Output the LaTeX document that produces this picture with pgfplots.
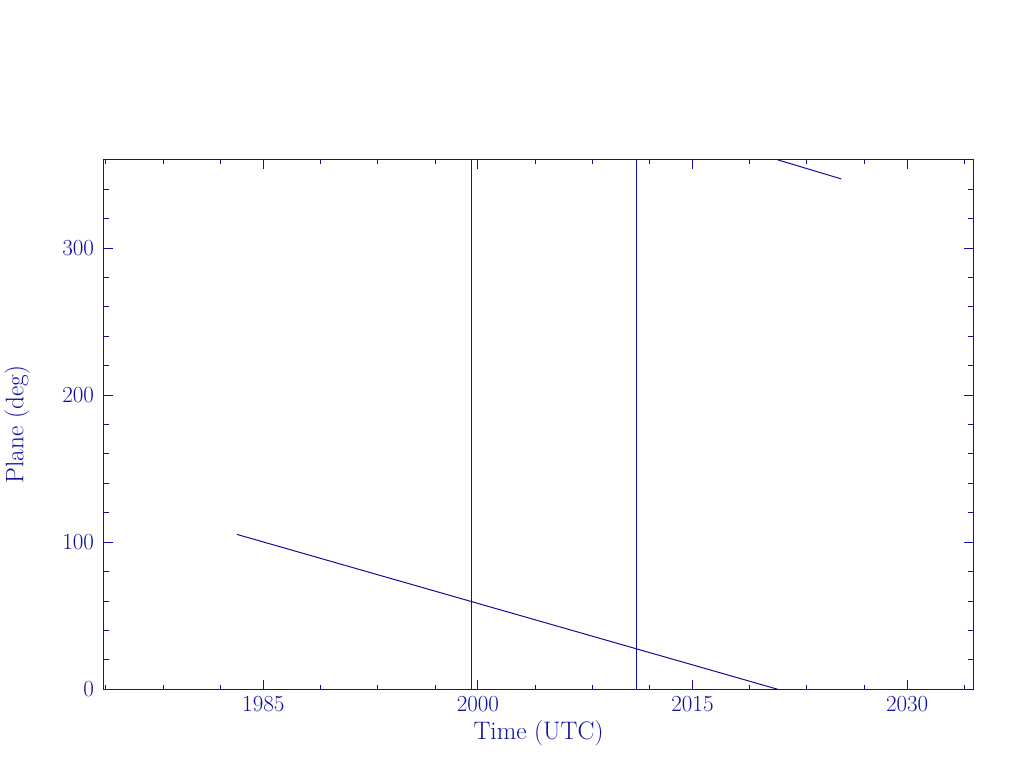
\documentclass[border=0pt]{standalone}
\usepackage{pgfplots}
\pgfplotsset{compat=1.18}
\definecolor{pgblue}{RGB}{14,14,160}
\begin{document}
\begin{tikzpicture}[x=0.75pt,y=0.75pt]
\begin{axis}[
  at={(0,0)}, anchor=south west,
  scale only axis,
  width=652.5pt, height=397.5pt,
  xmin=1973.86, xmax=2034.61,
  ymin=0, ymax=360,
  axis line style={pgblue, line width=0.75pt},
  every tick/.style={pgblue, line width=0.75pt},
  xtick={1985,2000,2015,2030},
  minor xtick={1974,1978,1982,1989,1993,1997,2004,2008,2012,2019,2023,2027,2034},
  ytick={0,100,200,300},
  minor ytick={20,40,60,80,120,140,160,180,220,240,260,280,320,340},
  major tick length=7pt,
  minor tick length=3.5pt,
  tick align=inside,
  xtick pos=both, ytick pos=both,
  xticklabel style={font=\fontsize{16.5}{18}\selectfont, text=pgblue},
  yticklabel style={font=\fontsize{16.5}{18}\selectfont, text=pgblue},
  xticklabel={\pgfmathprintnumber[1000 sep={},fixed]{\tick}},
  xticklabel shift=2pt,
  yticklabel shift=4pt,
  xlabel={Time (UTC)},
  ylabel={Plane (deg)},
  xlabel style={font=\fontsize{19}{22}\selectfont, text=pgblue, yshift=0pt},
  ylabel style={font=\fontsize{19}{22}\selectfont, text=pgblue, at={(axis description cs:-0.1,0.5)}, anchor=center},
  clip=true,
]
\addplot[pgblue, line width=0.75pt] coordinates {(1983.15,105.3) (2020.95,0)};
\addplot[pgblue, line width=0.75pt] coordinates {(2020.95,360) (2025.4,347)};
\addplot[pgblue, line width=0.75pt] coordinates {(1999.52,0) (1999.52,360)};
\addplot[pgblue, line width=0.75pt] coordinates {(2011.1,0) (2011.1,360)};
\end{axis}
\path[use as bounding box] (-103,-78) rectangle (921,690);
\end{tikzpicture}
\end{document}
